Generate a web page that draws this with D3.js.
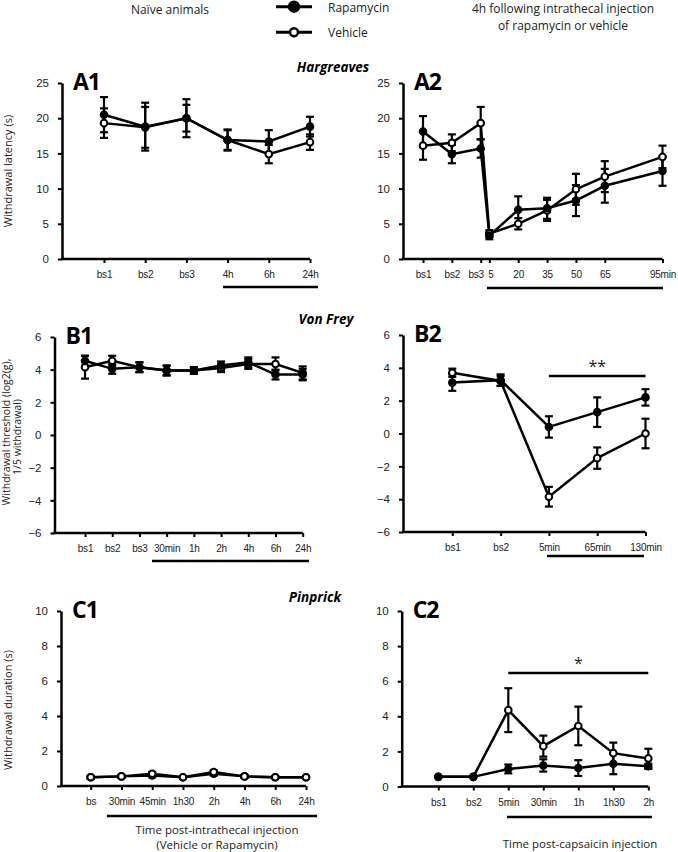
<!DOCTYPE html>
<html>
<head>
<meta charset="utf-8">
<script src="https://cdn.jsdelivr.net/npm/d3@7"></script>
<style>
  body { margin: 0; background: #fff; }
  svg { font-family: "Open Sans", sans-serif; }
</style>
</head>
<body>
<div id="chart"></div>
<script>
// --- data ---
const a1Labels = ["bs1", "bs2", "bs3", "4h", "6h", "24h"];
const a1Rapa = [20.5, 18.8, 20.0, 16.9, 16.7, 18.8];
const a1RapaErr = [2.5, 3.4, 2.7, 1.5, 1.6, 1.4];
const a1Veh = [19.3, 18.7, 20.0, 16.9, 14.9, 16.6];
const a1VehErr = [2.1, 2.9, 1.9, 1.4, 1.3, 1.1];

const a2Labels = ["bs1", "bs2", "bs3", "5", "20", "35", "50", "65", "95min"];
const a2Pos = [1, 2, 3, 3.3, 4.3, 5.3, 6.3, 7.3, 9.3];
const a2Rapa = [18.1, 14.9, 15.7, 3.3, 7.0, 7.2, 8.3, 10.4, 12.5];
const a2RapaErr = [2.2, 1.3, 1.3, 0.5, 1.9, 1.5, 2.2, 2.4, 2.1];
const a2Veh = [16.1, 16.5, 19.3, 3.6, 5.0, 6.9, 9.9, 11.7, 14.5];
const a2VehErr = [2.0, 1.2, 2.3, 0.5, 0.8, 1.5, 2.2, 2.2, 1.6];

const b1Labels = ["bs1", "bs2", "bs3", "30min", "1h", "2h", "4h", "6h", "24h"];
const b1Rapa = [4.55, 4.05, 4.15, 3.95, 3.95, 4.25, 4.45, 3.7, 3.7];
const b1RapaErr = [0.3, 0.3, 0.3, 0.3, 0.2, 0.25, 0.3, 0.3, 0.35];
const b1Veh = [4.15, 4.55, 4.15, 3.95, 3.95, 4.1, 4.35, 4.35, 3.8];
const b1VehErr = [0.7, 0.3, 0.3, 0.3, 0.2, 0.25, 0.3, 0.4, 0.4];

const b2Labels = ["bs1", "bs2", "5min", "65min", "130min"];
const b2Rapa = [3.1, 3.25, 0.4, 1.3, 2.2];
const b2RapaErr = [0.5, 0.35, 0.65, 0.9, 0.5];
const b2Veh = [3.7, 3.2, -3.85, -1.5, 0.0];
const b2VehErr = [0.25, 0.3, 0.6, 0.65, 0.9];

const c1Labels = ["bs", "30min", "45min", "1h30", "2h", "4h", "6h", "24h"];
const c1Rapa = [0.5, 0.55, 0.6, 0.5, 0.7, 0.55, 0.5, 0.5];
const c1RapaErr = [0.08, 0.08, 0.1, 0.05, 0.1, 0.08, 0.05, 0.05];
const c1Veh = [0.5, 0.55, 0.7, 0.5, 0.8, 0.55, 0.5, 0.5];
const c1VehErr = [0.08, 0.08, 0.1, 0.05, 0.1, 0.08, 0.05, 0.05];

const c2Labels = ["bs1", "bs2", "5min", "30min", "1h", "1h30", "2h"];
const c2Rapa = [0.55, 0.55, 1.0, 1.2, 1.05, 1.3, 1.15];
const c2RapaErr = [0, 0, 0.25, 0.35, 0.45, 0.6, 0.15];
const c2Veh = [0.55, 0.55, 4.35, 2.3, 3.45, 1.9, 1.6];
const c2VehErr = [0, 0, 1.25, 0.6, 1.1, 0.6, 0.55];

const aTicks = [0, 5, 10, 15, 20, 25];
const bTicks = [-6, -4, -2, 0, 2, 4, 6];
const cTicks = [0, 2, 4, 6, 8, 10];

const width = 678, height = 852;
const svg = d3.select("#chart").append("svg")
    .attr("width", width)
    .attr("height", height);

function panel(cfg) {
    let pos = cfg.pos || cfg.labels.map((d, i) => i + 1);
    let x = d3.scaleLinear()
        .domain([pos[0], pos[pos.length - 1]])
        .range([cfg.xFirst, cfg.xLast]);
    let y = d3.scaleLinear()
        .domain(d3.extent(cfg.ticks))
        .range([cfg.yBot, cfg.yTop]);

    let g = svg.append("g");

    // y axis
    let ya = g.append("g")
        .attr("transform", `translate(${cfg.x0},0)`)
        .call(d3.axisLeft(y).tickValues(cfg.ticks).tickSize(4).tickSizeOuter(0).tickPadding(9));
    ya.select(".domain").attr("stroke-width", 2.5);
    ya.selectAll(".tick line").attr("stroke-width", 2);
    ya.selectAll("text").attr("font-size", 11.5).attr("fill", "#222");

    // x axis
    let xa = g.append("g")
        .attr("transform", `translate(0,${cfg.yBot})`)
        .call(d3.axisBottom(x).tickValues(pos).tickFormat((d, i) => cfg.labels[i]).tickSize(4).tickPadding(8));
    xa.select(".domain").remove();
    xa.selectAll(".tick line").attr("stroke-width", 2);
    xa.selectAll("text")
        .attr("font-size", 10)
        .attr("letter-spacing", -0.2)
        .attr("fill", "#222")
        .attr("dx", (d, i) => (cfg.shift && cfg.shift[i]) || 0);
    g.append("line")
        .attr("x1", cfg.x0 - 1).attr("x2", cfg.xEnd)
        .attr("y1", cfg.yBot).attr("y2", cfg.yBot)
        .attr("stroke", "black").attr("stroke-width", 2.5);

    // series
    let line = d3.line()
        .x((d, i) => x(pos[i]))
        .y(d => y(d));

    let series = [
        { vals: cfg.veh, err: cfg.vehErr, fill: "white" },
        { vals: cfg.rapa, err: cfg.rapaErr, fill: "black" }
    ];
    if (cfg.vehOnTop) series.reverse();

    series.forEach(s => {
        g.append("path")
            .datum(s.vals)
            .attr("d", line)
            .attr("fill", "none")
            .attr("stroke", "black")
            .attr("stroke-width", 2.5);

        let eb = g.append("g").attr("stroke", "black").attr("stroke-width", 2.2);
        s.vals.forEach((v, i) => {
            if (!s.err[i]) return;
            let cx = x(pos[i]);
            eb.append("line")
                .attr("x1", cx).attr("x2", cx)
                .attr("y1", y(v - s.err[i])).attr("y2", y(v + s.err[i]));
            [v - s.err[i], v + s.err[i]].forEach(e => {
                eb.append("line")
                    .attr("x1", cx - 4).attr("x2", cx + 4)
                    .attr("y1", y(e)).attr("y2", y(e));
            });
        });
    });

    series.forEach(s => {
        g.selectAll(null)
            .data(s.vals)
            .join("circle")
            .attr("cx", (d, i) => x(pos[i]))
            .attr("cy", d => y(d))
            .attr("r", 3.3)
            .attr("fill", s.fill)
            .attr("stroke", "black")
            .attr("stroke-width", 2);
    });

    // panel label
    g.append("text")
        .attr("x", cfg.x0 + 11)
        .attr("y", cfg.yTop + 7)
        .attr("font-size", 23)
        .attr("font-weight", "bold")
        .attr("letter-spacing", -1)
        .text(cfg.name);

    // underline under treatment period
    g.append("line")
        .attr("x1", cfg.under[0]).attr("x2", cfg.under[1])
        .attr("y1", cfg.under[2]).attr("y2", cfg.under[2])
        .attr("stroke", "black").attr("stroke-width", 2.5);

    if (cfg.sig) {
        g.append("line")
            .attr("x1", x(pos[cfg.sig.from])).attr("x2", x(pos[cfg.sig.to]))
            .attr("y1", cfg.sig.y).attr("y2", cfg.sig.y)
            .attr("stroke", "black").attr("stroke-width", 2.5);
        g.append("text")
            .attr("x", (x(pos[cfg.sig.from]) + x(pos[cfg.sig.to])) / 2)
            .attr("y", cfg.sig.y - 4)
            .attr("text-anchor", "middle")
            .attr("font-size", 16)
            .attr("fill", "#222")
            .text(cfg.sig.text);
    }
}

panel({ name: "A1", labels: a1Labels, rapa: a1Rapa, rapaErr: a1RapaErr, veh: a1Veh, vehErr: a1VehErr,
    ticks: aTicks, x0: 62, xFirst: 104, xLast: 310, xEnd: 310, yBot: 259, yTop: 83, under: [223, 318, 287] });
panel({ name: "A2", labels: a2Labels, pos: a2Pos, rapa: a2Rapa, rapaErr: a2RapaErr, veh: a2Veh, vehErr: a2VehErr,
    ticks: aTicks, x0: 403, xFirst: 423, xLast: 662.5, xEnd: 662.5, yBot: 259, yTop: 83, under: [487, 663, 288],
    shift: { 2: -5, 3: 1 } });
panel({ name: "B1", labels: b1Labels, rapa: b1Rapa, rapaErr: b1RapaErr, veh: b1Veh, vehErr: b1VehErr,
    ticks: bTicks, x0: 54.5, xFirst: 85, xLast: 302.7, xEnd: 302.7, yBot: 533, yTop: 337, under: [152, 309, 561] });
panel({ name: "B2", labels: b2Labels, rapa: b2Rapa, rapaErr: b2RapaErr, veh: b2Veh, vehErr: b2VehErr,
    ticks: bTicks, x0: 403, xFirst: 452.3, xLast: 645.5, xEnd: 645.5, yBot: 532, yTop: 335, under: [547, 644, 556],
    sig: { from: 2, to: 4, y: 376, text: "**" } });
panel({ name: "C1", labels: c1Labels, rapa: c1Rapa, rapaErr: c1RapaErr, veh: c1Veh, vehErr: c1VehErr,
    ticks: cTicks, x0: 61, xFirst: 90.7, xLast: 306, xEnd: 306, yBot: 786, yTop: 611, under: [107, 317, 816],
    vehOnTop: true });
panel({ name: "C2", labels: c2Labels, rapa: c2Rapa, rapaErr: c2RapaErr, veh: c2Veh, vehErr: c2VehErr,
    ticks: cTicks, x0: 401.7, xFirst: 438.3, xLast: 648.3, xEnd: 648.3, yBot: 786.5, yTop: 611, under: [507, 652, 817],
    sig: { from: 2, to: 6, y: 673, text: "*" } });

// section titles
[["Hargreaves", 333, 72], ["Von Frey", 326, 324], ["Pinprick", 315, 602]].forEach(t => {
    svg.append("text")
        .attr("x", t[1]).attr("y", t[2])
        .attr("text-anchor", "middle")
        .attr("font-size", 13.5)
        .attr("font-weight", "bold")
        .attr("font-style", "italic")
        .text(t[0]);
});

// y axis titles
function yTitle(txt, cx, cy, size) {
    svg.append("text")
        .attr("transform", `translate(${cx},${cy}) rotate(-90)`)
        .attr("text-anchor", "middle")
        .attr("dominant-baseline", "middle")
        .attr("font-size", size)
        .attr("fill", "#222")
        .text(txt);
}
yTitle("Withdrawal latency (s)", 9, 171, 11);
yTitle("Withdrawal threshold (log2(g),", 7, 432, 10.5);
yTitle("1/5 withdrawal)", 18.5, 437, 10.5);
yTitle("Withdrawal duration (s)", 9, 710, 11);

// header texts
function plain(txt, x, y, anchor, size) {
    svg.append("text")
        .attr("x", x).attr("y", y)
        .attr("text-anchor", anchor)
        .attr("font-size", size)
        .attr("fill", "#222")
        .text(txt);
}
plain("Naïve animals", 170, 14, "middle", 12);
plain("4h following intrathecal injection", 563, 13, "middle", 12);
plain("of rapamycin or vehicle", 563, 30, "middle", 12);
plain("Rapamycin", 328, 12, "start", 12);
plain("Vehicle", 328, 37, "start", 12);
plain("Time post-intrathecal injection", 217, 834, "middle", 11.5);
plain("(Vehicle or Rapamycin)", 217, 849, "middle", 11.5);
plain("Time post-capsaicin injection", 580, 848, "middle", 11.5);

// legend markers
const legendKeys = [{ fill: "black", y: 6.7 }, { fill: "white", y: 32.3 }];
legendKeys.forEach(k => {
    svg.append("line")
        .attr("x1", 276).attr("x2", 312)
        .attr("y1", k.y).attr("y2", k.y)
        .attr("stroke", "black").attr("stroke-width", 3);
    svg.append("circle")
        .attr("cx", 294).attr("cy", k.y).attr("r", k.fill === "black" ? 5 : 4)
        .attr("fill", k.fill).attr("stroke", "black").attr("stroke-width", 2.5);
});
</script>
</body>
</html>
